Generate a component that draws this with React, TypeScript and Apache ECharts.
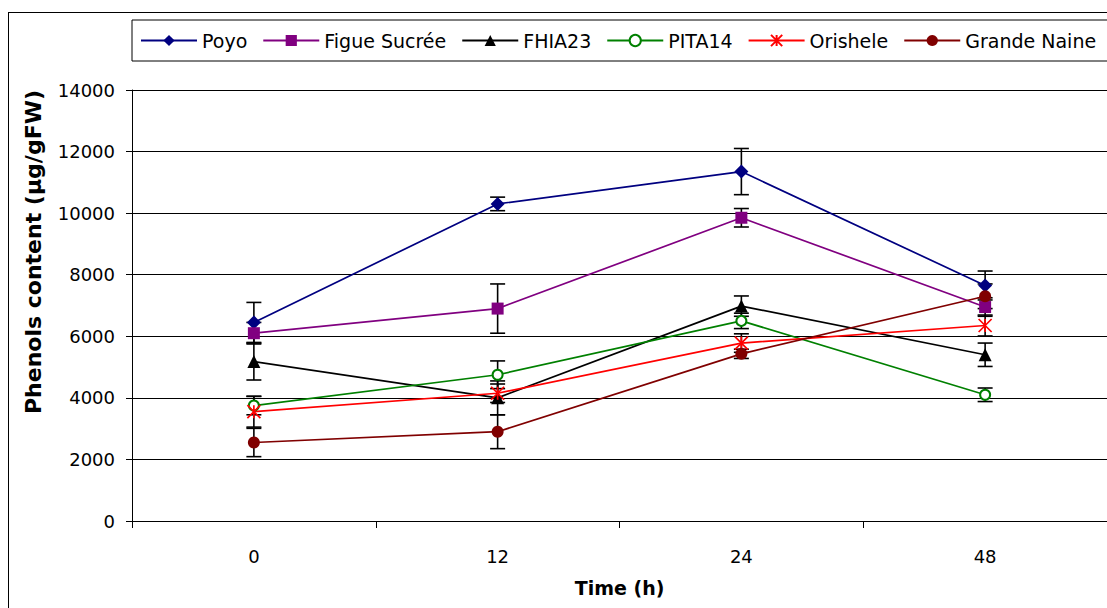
import React, { useEffect, useRef } from "react";
import * as echarts from "echarts";

const categories = ["0", "12", "24", "48"];
const seriesNames = ["Poyo", "Figue Sucrée", "FHIA23", "PITA14", "Orishele", "Grande Naine"];
const poyo = [6450, 10300, 11350, 7650];
const poyoErr = [650, 220, 750, 470];
const figue = [6100, 6900, 9850, 6950];
const figueErr = [350, 800, 300, 300];
const fhia = [5180, 4000, 6980, 5400];
const fhiaErr = [600, 550, 330, 380];
const pita = [3750, 4750, 6500, 4100];
const pitaErr = [300, 450, 250, 220];
const orishele = [3550, 4150, 5780, 6350];
const orisheleErr = [500, 300, 300, 340];
const grande = [2550, 2900, 5430, 7300];
const grandeErr = [460, 550, 150, 400];
const yTicks = { min: 0, max: 14000, interval: 2000 };

const colors = ["#000080", "#800080", "#000000", "#008000", "#FF0000", "#800000"];
const symbols = [
  "diamond",
  "rect",
  "triangle",
  "emptyCircle",
  "path://M0,0L10,10M10,0L0,10M5,0L5,10",
  "circle",
];
const symbolSizes = [14, 12, 13, 10, 13, 12];
const values = [poyo, figue, fhia, pita, orishele, grande];
const errors = [poyoErr, figueErr, fhiaErr, pitaErr, orisheleErr, grandeErr];

const FONT = "DejaVu Sans";

export default function App() {
  const ref = useRef<HTMLDivElement>(null);
  useEffect(() => {
    if (!ref.current) return;
    const chart = echarts.init(ref.current, null, { renderer: "svg" });

    const lineSeries: any[] = seriesNames.map((name, i) => ({
      name,
      type: "line",
      data: values[i],
      symbol: symbols[i],
      symbolSize: symbolSizes[i],
      z: 3,
      lineStyle: { color: colors[i], width: 1.7 },
      itemStyle: {
        color: colors[i],
        borderColor: colors[i],
        borderWidth: i === 3 || i === 4 ? 1.7 : 0,
      },
    }));

    const errSeries: any[] = seriesNames.map((name, i) => ({
      name: name + " error",
      type: "custom",
      z: 2,
      data: values[i].map((v, j) => [j, v - errors[i][j], v + errors[i][j]]),
      renderItem: (params: any, api: any) => {
        const x = api.value(0);
        const lo = api.coord([x, api.value(1)]);
        const hi = api.coord([x, api.value(2)]);
        const hw = 7.5;
        const style = { stroke: "#000", lineWidth: 1.6 };
        return {
          type: "group",
          children: [
            { type: "line", shape: { x1: lo[0], y1: lo[1], x2: hi[0], y2: hi[1] }, style },
            { type: "line", shape: { x1: lo[0] - hw, y1: lo[1], x2: lo[0] + hw, y2: lo[1] }, style },
            { type: "line", shape: { x1: hi[0] - hw, y1: hi[1], x2: hi[0] + hw, y2: hi[1] }, style },
          ],
        };
      },
    }));

    chart.setOption({
      animation: false,
      backgroundColor: "#ffffff",
      grid: { left: 132, top: 90, width: 984, height: 431, containLabel: false },
      legend: {
        data: seriesNames,
        left: 132,
        top: 20,
        width: 1400,
        orient: "horizontal",
        itemWidth: 56,
        itemHeight: 14,
        itemGap: 15,
        padding: [11, 24, 11, 8],
        borderColor: "#000",
        borderWidth: 1,
        textStyle: { fontFamily: FONT, fontSize: 19, color: "#000" },
      },
      xAxis: {
        type: "category",
        data: categories,
        boundaryGap: true,
        name: "Time (h)",
        nameLocation: "middle",
        nameGap: 57,
        nameTextStyle: { fontFamily: FONT, fontSize: 19, fontWeight: "bold", color: "#000" },
        axisLine: { lineStyle: { color: "#000", width: 1 } },
        axisTick: { show: true, length: 7, lineStyle: { color: "#000" } },
        axisLabel: { margin: 26, fontFamily: FONT, fontSize: 18, color: "#000" },
        splitLine: { show: false },
      },
      yAxis: {
        type: "value",
        min: yTicks.min,
        max: yTicks.max,
        interval: yTicks.interval,
        axisLine: { show: true, lineStyle: { color: "#000", width: 1 } },
        axisTick: { show: true, length: 6, lineStyle: { color: "#000" } },
        axisLabel: {
          margin: 17,
          fontFamily: FONT,
          fontSize: 18,
          color: "#000",
          formatter: (v: number) => String(v),
        },
        splitLine: { show: true, lineStyle: { color: "#000", width: 1 } },
      },
      graphic: [
        {
          type: "line",
          shape: { x1: 8.5, y1: 12, x2: 8.5, y2: 608 },
          style: { stroke: "#000", lineWidth: 1 },
        },
        {
          type: "line",
          shape: { x1: 8, y1: 12.5, x2: 1107, y2: 12.5 },
          style: { stroke: "#000", lineWidth: 1 },
        },
        {
          type: "text",
          x: 33,
          y: 252,
          rotation: Math.PI / 2,
          style: {
            text: "Phenols content (µg/gFW)",
            font: "bold 22px 'DejaVu Sans'",
            fill: "#000",
            textAlign: "center",
            textVerticalAlign: "middle",
          },
        },
      ],
      series: [...errSeries, ...lineSeries],
    });
    return () => chart.dispose();
  }, []);
  return (
    <div
      ref={ref}
      style={{ position: "fixed", left: 0, top: 0, width: 1107, height: 608, background: "#fff" }}
    />
  );
}
